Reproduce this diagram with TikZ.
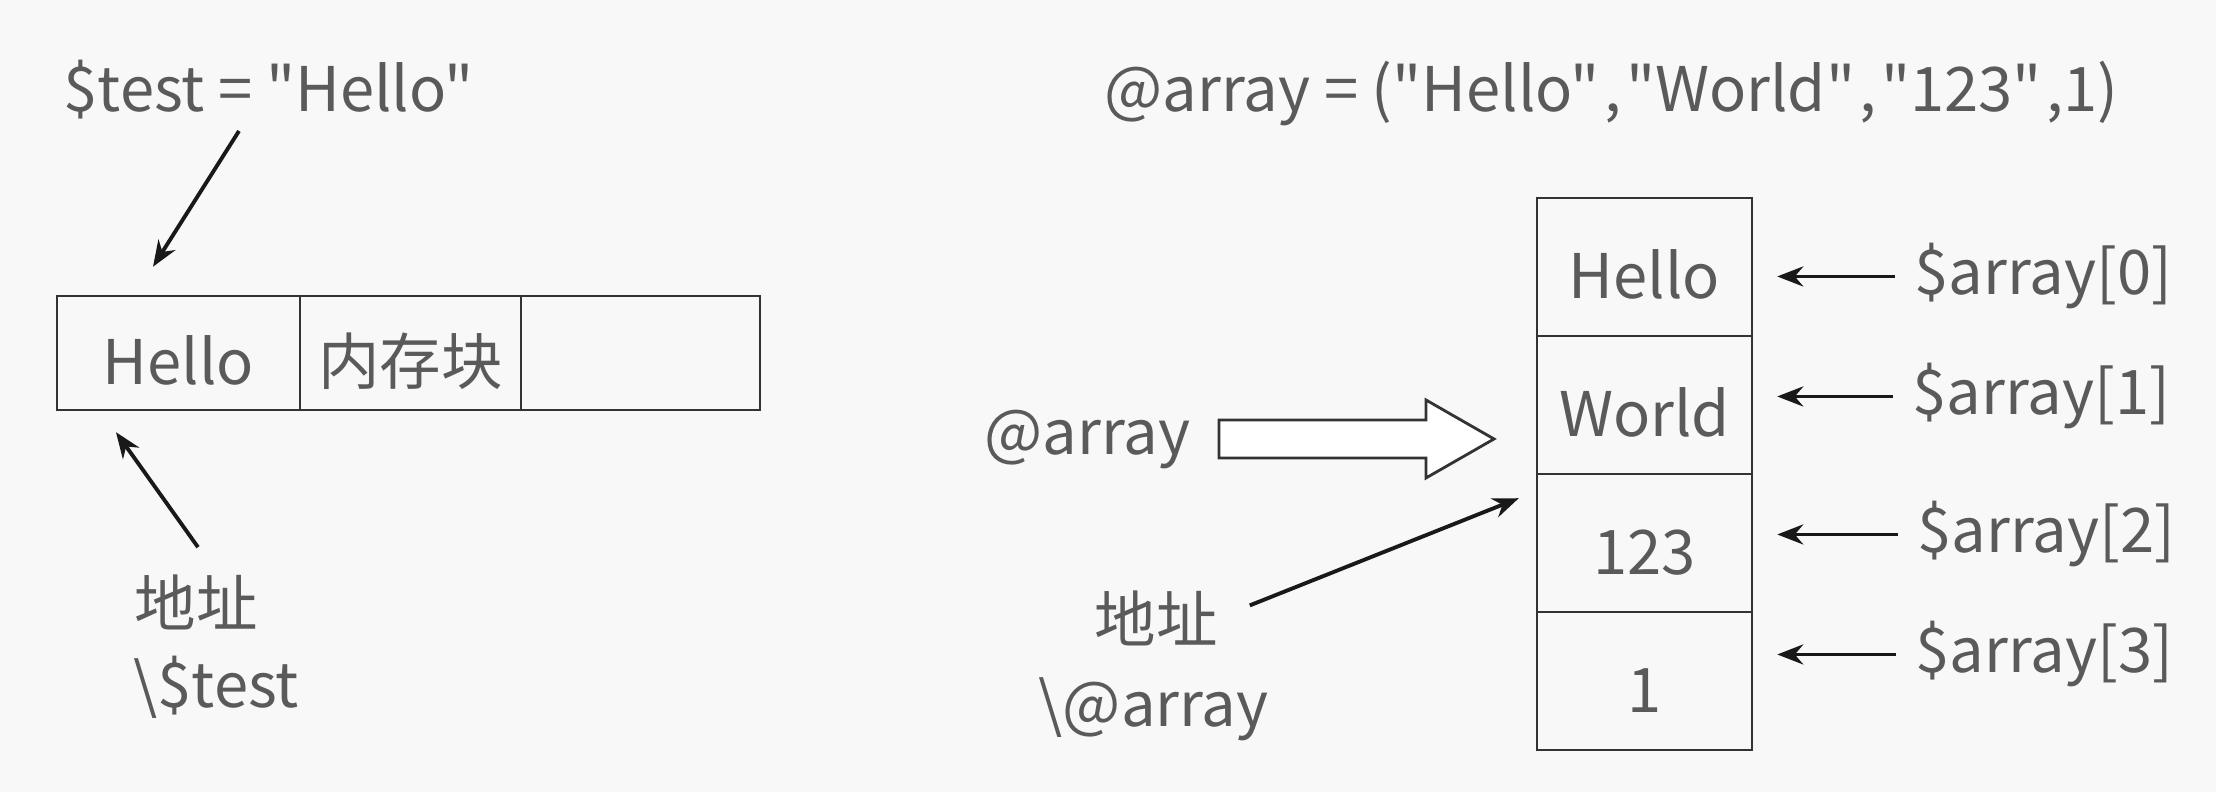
\documentclass[tikz,border=0pt]{standalone}
\usepackage{fontspec}
\setmainfont{Noto Sans CJK SC}[Ligatures=TeXOff]
\usepackage{tikz}
\usetikzlibrary{calc,positioning,arrows.meta}
\definecolor{txtgray}{HTML}{5A5A5A}
\definecolor{linegray}{HTML}{333333}
\definecolor{bggray}{HTML}{F8F8F8}
\newcommand{\qc}{\kern0.045cm,\kern0.045cm}
\tikzset{
node distance=1.38cm, % distance between the rows of the array
lbl/.style={text=txtgray, font=\fontsize{17.5}{21}\selectfont, inner sep=0pt},
cell/.style={lbl, draw=linegray, line width=0.7pt, text height=0.64cm, text depth=0pt, minimum height=1.14cm},
ptr/.style={-{Stealth[length=0.26cm,width=0.2cm]}, line width=1.1pt, black!90},
hollow/.style={draw=linegray, line width=0.8pt, fill=white},
}

\begin{document}
\begin{tikzpicture}[on grid]
   \fill[bggray] (0,0) rectangle (22.16,7.92);
   \useasboundingbox (0,0) rectangle (22.16,7.92);

   % scalar
   \node[lbl, anchor=base west] (sdef) at (0.63,6.80) {\$test = "Hello"};
   \node[cell, minimum width=2.43cm] (cell_0) at (1.785,4.39) {Hello};
   \node[cell, minimum width=2.21cm] (cell_1) [right=2.32cm of cell_0] {内存块};
   \node[cell, minimum width=2.39cm] (cell_2) [right=2.30cm of cell_1] {};
   \node[lbl] (addr_l) at (1.96,1.895) {地址};
   \node[lbl, anchor=base west] (ref_l) at (1.33,0.84) {\textbackslash\$test};
   \coordinate (sdef_out) at ($(sdef.base west)+(1.76,-0.19)$);
   \coordinate (cell_in) at ($(cell_0.north)+(-0.255,0.28)$);
   \coordinate (addr_out) at ($(addr_l.north)+(0.02,0.27)$);
   \coordinate (cell_up) at ($(cell_0.south)+(-0.625,-0.21)$);
   \draw[ptr] (sdef_out) -- (cell_in);
   \draw[ptr] (addr_out) -- (cell_up);

   % array
   \node[lbl, anchor=base west] (adef) at (11.04,6.80) {@array = ("Hello"\qc"World"\qc"123"\kern0.045cm,1)};
   \node[cell, minimum width=2.15cm, minimum height=1.38cm] (row_0) at (16.445,5.25) {Hello};
   \node[cell, minimum width=2.15cm, minimum height=1.38cm] (row_1) [below=of row_0] {World};
   \node[cell, minimum width=2.15cm, minimum height=1.38cm] (row_2) [below=of row_1] {123};
   \node[cell, minimum width=2.15cm, minimum height=1.38cm] (row_3) [below=of row_2] {1};
   \node[lbl, anchor=base west] (idx_0) at (19.14,4.97) {\$array[0]};
   \node[lbl, anchor=base west] (idx_1) at (19.12,3.77) {\$array[1]};
   \node[lbl, anchor=base west] (idx_2) at (19.17,2.39) {\$array[2]};
   \node[lbl, anchor=base west] (idx_3) at (19.15,1.19) {\$array[3]};
   \draw[ptr, shorten <=0.19cm, shorten >=0.24cm] (idx_0.west) -- (idx_0.west -| row_0.east);
   \draw[ptr, shorten <=0.19cm, shorten >=0.24cm] (idx_1.west) -- (idx_1.west -| row_1.east);
   \draw[ptr, shorten <=0.19cm, shorten >=0.24cm] (idx_2.west) -- (idx_2.west -| row_2.east);
   \draw[ptr, shorten <=0.19cm, shorten >=0.24cm] (idx_3.west) -- (idx_3.west -| row_3.east);

   \node[lbl, anchor=base west] (anm) at (9.84,3.37) {@array};
   \coordinate (fat_s) at (12.19,3.53);
   \draw[hollow] (fat_s) ++(0,0.19) -- ++(2.07,0) -- ++(0,0.20) -- ++(0.68,-0.39)
      -- ++(-0.68,-0.39) -- ++(0,0.20) -- ++(-2.07,0) -- cycle;

   \node[lbl] (addr_r) at (11.56,1.74) {地址};
   \node[lbl, anchor=base west] (ref_r) at (10.38,0.65) {\textbackslash @array};
   \coordinate (addr_tip) at ($(row_1.south west)+(-0.17,-0.23)$);
   \draw[ptr, shorten <=0.34cm] (addr_r.east) -- (addr_tip);
\end{tikzpicture}
\end{document}
